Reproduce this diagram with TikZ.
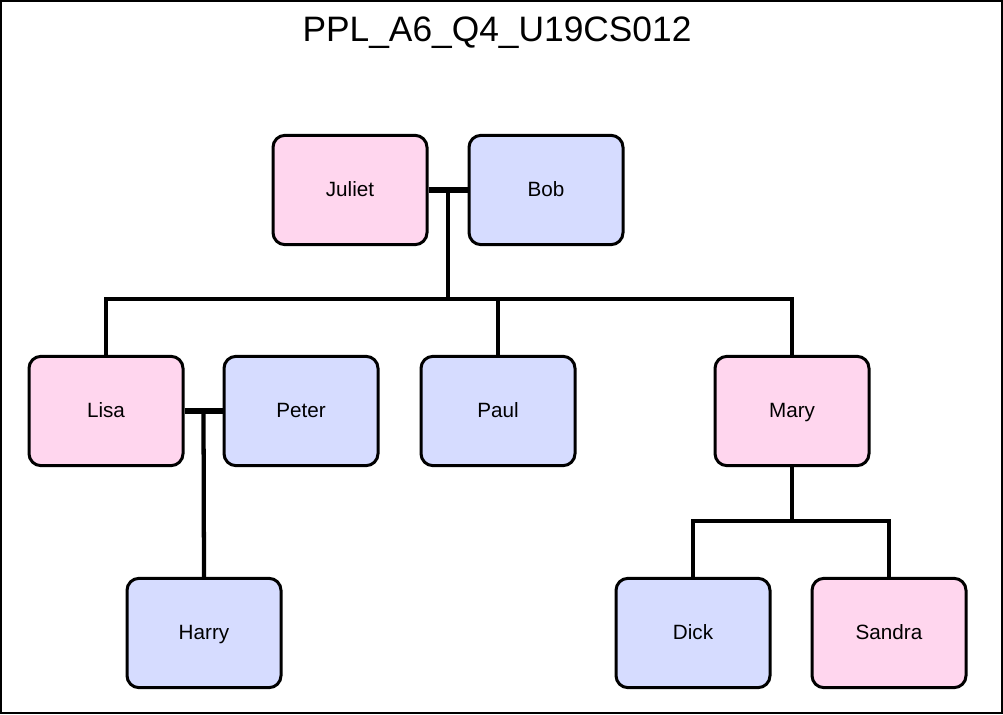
\documentclass[tikz,border=0pt]{standalone}
\usepackage{fontspec}
\setmainfont{Liberation Sans}
\usetikzlibrary{calc}
\usetikzlibrary{positioning}
\definecolor{girl}{RGB}{255,214,238}
\definecolor{boy}{RGB}{214,220,255}

\begin{document}
\begin{tikzpicture}[x=0.75pt, y=0.75pt,
    person/.style={draw, line width=2.25pt, rounded corners=9pt,
      minimum width=115.5pt, minimum height=82pt, text height=2.15ex, text depth=0.3ex,
      font=\fontsize{15.5}{18}\selectfont},
    she/.style={person, fill=girl},
    he/.style={person, fill=boy},
    couple/.style={line width=4.2pt},
    kin/.style={line width=3.2pt}]
  \useasboundingbox (0,0) rectangle (1003,714);
  \draw[line width=1.5pt] (1,1) rectangle (1002,713);

  % title
  \node (title) at (497,681) {\fontsize{26.5}{30}\selectfont PPL\_A6\_Q4\_U19CS012};

  % generation 1
  \node[she] (juliet) at (350,524) {Juliet};
  \node[he]  (bob)    at (546,524) {Bob};

  % generation 2
  \node[she] (lisa)  at (106,303) {Lisa};
  \node[he]  (peter) at (301,303) {Peter};
  \node[he]  (paul)  at (498,303) {Paul};
  \node[she] (mary)  at (792,303) {Mary};

  % generation 3
  \node[he]  (harry)  at (204,81) {Harry};
  \node[he]  (dick)   at (693,81) {Dick};
  \node[she] (sandra) at (889,81) {Sandra};

  % Juliet + Bob
  \draw[couple] (juliet.east) -- (bob.west);
  \coordinate (jb) at ($(juliet.east)!0.5!(bob.west)$);
  \coordinate (bus) at (jb |- 0,415);
  \draw[kin] (jb) -- (bus);
  \draw[kin,line cap=rect] (lisa.north |- bus) -- (mary.north |- bus);
  \draw[kin] (lisa.north |- bus) -- (lisa.north);
  \draw[kin] (paul.north |- bus) -- (paul.north);
  \draw[kin] (mary.north |- bus) -- (mary.north);

  % Lisa + Peter
  \draw[couple] (lisa.east) -- (peter.west);
  \coordinate (lp) at ($(lisa.east)!0.5!(peter.west)$);
  \draw[kin] (lp) -- (harry.north);

  % Mary
  \coordinate (mbus) at (mary.south |- 0,193);
  \draw[kin] (mary.south) -- (mbus);
  \draw[kin,line cap=rect] (dick.north |- mbus) -- (sandra.north |- mbus);
  \draw[kin] (dick.north |- mbus) -- (dick.north);
  \draw[kin] (sandra.north |- mbus) -- (sandra.north);
\end{tikzpicture}
\end{document}
